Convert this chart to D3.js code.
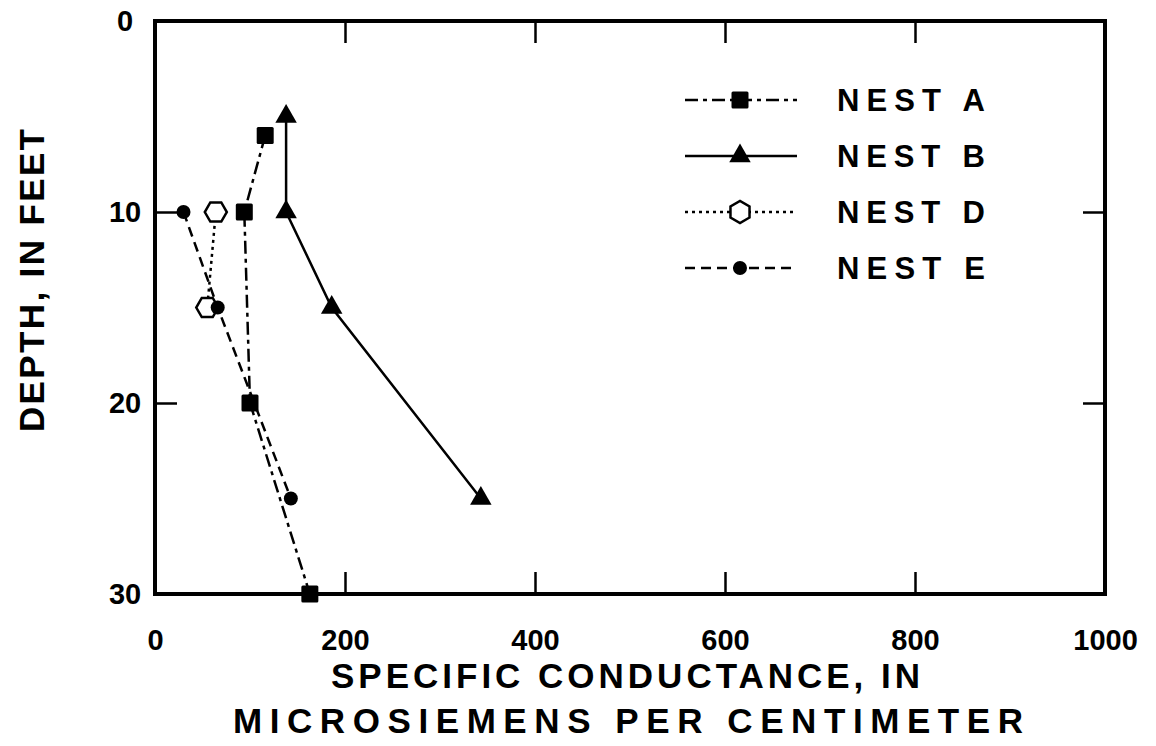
<!DOCTYPE html>
<html>
<head>
<meta charset="utf-8">
<script src="https://cdn.jsdelivr.net/npm/d3@7"></script>
<style>
  html, body { margin: 0; padding: 0; background: #fff; }
  svg { display: block; }
  text { font-family: "Liberation Sans", Arial, sans-serif; fill: #000; }
</style>
</head>
<body>
<svg id="chart" width="1156" height="746"></svg>
<script>
// Specific conductance (microsiemens per centimeter) against depth (feet)
const nestADepth = [6, 10, 20, 30];
const nestAValue = [116, 94, 100, 163];
const nestBDepth = [5, 10, 15, 25];
const nestBValue = [138, 138, 186, 343];
const nestDDepth = [10, 15];
const nestDValue = [64, 55];
const nestEDepth = [10, 15, 25];
const nestEValue = [30, 66, 143];

const seriesNames = ["NEST A", "NEST B", "NEST D", "NEST E"];
const xTicks = [0, 200, 400, 600, 800, 1000];
const yTicks = [0, 10, 20, 30];

const svg = d3.select("#chart");
const x = d3.scaleLinear().domain([0, 1000]).range([155, 1105]);
const y = d3.scaleLinear().domain([0, 30]).range([21, 594]);

// axes with inward ticks
const axisStyle = g => {
  g.select(".domain").remove();
  g.selectAll(".tick line").attr("stroke", "#000").attr("stroke-width", 2.5);
};
const tickText = g => g.selectAll("text")
  .attr("font-size", 29).attr("font-weight", "bold")
  .attr("font-family", "Liberation Sans, Arial, sans-serif").attr("fill", "#000");

svg.append("g").attr("transform", `translate(0,${y(30)})`)
  .call(d3.axisBottom(x).tickValues(xTicks).tickSize(-22).tickPadding(35).tickFormat(d3.format("d")))
  .call(axisStyle).call(tickText);
svg.append("g").attr("transform", `translate(0,${y(0)})`)
  .call(d3.axisTop(x).tickValues(xTicks).tickSize(-22).tickFormat(""))
  .call(axisStyle);
svg.append("g").attr("transform", `translate(${x(0)},0)`)
  .call(d3.axisLeft(y).tickValues(yTicks).tickSize(-22).tickFormat(d3.format("d")))
  .call(axisStyle).call(tickText)
  .call(g => g.selectAll("text").attr("text-anchor", "middle").attr("x", -30));
svg.append("g").attr("transform", `translate(${x(1000)},0)`)
  .call(d3.axisRight(y).tickValues(yTicks).tickSize(-22).tickFormat(""))
  .call(axisStyle);

// frame
svg.append("rect")
  .attr("x", x(0)).attr("y", y(0))
  .attr("width", x(1000) - x(0)).attr("height", y(30) - y(0))
  .attr("fill", "none").attr("stroke", "#000").attr("stroke-width", 4);

// axis titles
svg.append("text").attr("x", 331).attr("y", 688)
  .attr("font-size", 35).attr("font-weight", "bold")
  .attr("textLength", 589).attr("lengthAdjust", "spacing")
  .text("SPECIFIC CONDUCTANCE, IN");
svg.append("text").attr("x", 233).attr("y", 733)
  .attr("font-size", 35).attr("font-weight", "bold")
  .attr("textLength", 790).attr("lengthAdjust", "spacing")
  .text("MICROSIEMENS PER CENTIMETER");
svg.append("text").attr("transform", "translate(44,432) rotate(-90)")
  .attr("font-size", 35).attr("font-weight", "bold")
  .attr("textLength", 303).attr("lengthAdjust", "spacing")
  .text("DEPTH, IN FEET");

// marker shapes
const hexPath = (r, pointyTop) => {
  const pts = d3.range(6).map(i => {
    const a = Math.PI / 3 * i + (pointyTop ? Math.PI / 6 : 0);
    return [r * Math.cos(a), r * Math.sin(a)];
  });
  return "M" + pts.map(p => p.join(",")).join("L") + "Z";
};
const markers = {
  "NEST A": g => g.append("rect").attr("x", -8.5).attr("y", -8.5).attr("width", 17).attr("height", 17).attr("rx", 1.5).attr("fill", "#000"),
  "NEST B": g => g.append("path").attr("d", d3.symbol(d3.symbolTriangle, 200)()).attr("fill", "#000"),
  "NEST D": (g, legend) => g.append("path").attr("d", hexPath(11, legend)).attr("fill", "#fff").attr("stroke", "#000").attr("stroke-width", 2.5),
  "NEST E": g => g.append("circle").attr("r", 7).attr("fill", "#000")
};
const dashes = {
  "NEST A": "13,5,4,5",
  "NEST B": null,
  "NEST D": "3,4",
  "NEST E": "10,6"
};

const series = [
  { name: "NEST A", pts: nestADepth.map((d, i) => ({ depth: d, value: nestAValue[i] })) },
  { name: "NEST B", pts: nestBDepth.map((d, i) => ({ depth: d, value: nestBValue[i] })) },
  { name: "NEST D", pts: nestDDepth.map((d, i) => ({ depth: d, value: nestDValue[i] })) },
  { name: "NEST E", pts: nestEDepth.map((d, i) => ({ depth: d, value: nestEValue[i] })) }
];

const line = d3.line().x(d => x(d.value)).y(d => y(d.depth));

series.forEach(s => {
  svg.append("path").datum(s.pts)
    .attr("d", line).attr("fill", "none").attr("stroke", "#000")
    .attr("stroke-width", 2.5)
    .attr("stroke-dasharray", dashes[s.name]);
});
series.forEach(s => {
  s.pts.forEach(p => {
    const g = svg.append("g").attr("transform", `translate(${x(p.value)},${y(p.depth)})`);
    markers[s.name](g, false);
  });
});

// legend
const legendRowY = d3.scalePoint().domain(seriesNames).range([100, 268]);
seriesNames.forEach(name => {
  const ly = legendRowY(name);
  svg.append("line").attr("x1", 685).attr("x2", 797).attr("y1", ly).attr("y2", ly)
    .attr("stroke", "#000").attr("stroke-width", 2.5).attr("stroke-dasharray", dashes[name]);
  const g = svg.append("g").attr("transform", `translate(740,${ly})`);
  markers[name](g, true);
  svg.append("text").attr("x", 837).attr("y", ly + 11)
    .attr("font-size", 31).attr("font-weight", "bold")
    .attr("textLength", 148).attr("lengthAdjust", "spacing")
    .text(name);
});
</script>
</body>
</html>
